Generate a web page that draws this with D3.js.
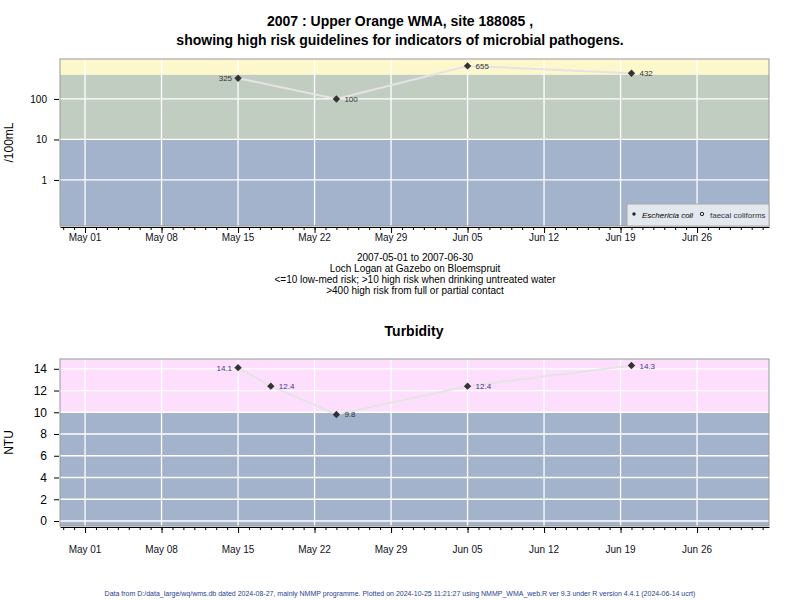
<!DOCTYPE html>
<html><head><meta charset="utf-8">
<script src="https://cdn.jsdelivr.net/npm/d3@7"></script>
<style>body{margin:0;background:#fff}svg{font-family:"Liberation Sans",Arial,sans-serif}</style>
</head><body><svg id="c" width="800" height="600"></svg>
<script>
// E. coli samples
let ecoliDates = ["2007-05-15","2007-05-24","2007-06-05","2007-06-20"];
let ecoliValues = [325, 100, 655, 432];
// turbidity samples
let turbDates = ["2007-05-15","2007-05-18","2007-05-24","2007-06-05","2007-06-20"];
let turbValues = [14.1, 12.4, 9.8, 12.4, 14.3];
let tickDates = ["2007-05-01","2007-05-08","2007-05-15","2007-05-22","2007-05-29","2007-06-05","2007-06-12","2007-06-19","2007-06-26"];
let logTicks = [1, 10, 100];
let ntuTicks = [0,2,4,6,8,10,12,14];
let subtitle = ["2007-05-01 to 2007-06-30","Loch Logan at Gazebo on Bloemspruit",
  "<=10 low-med risk; >10 high risk when drinking untreated water",">400 high risk from full or partial contact"];

let svg = d3.select("#c");
let parse = d3.utcParse("%Y-%m-%d");
let fmt = d3.utcFormat("%b %d");
let x = d3.scaleUtc().domain([new Date(Date.UTC(2007,3,28,17)), new Date(Date.UTC(2007,6,2,14))]).range([60,769]);

function text(t, xx, yy, opts) {
    let el = svg.append("text").attr("x", xx).attr("y", yy).text(t)
        .attr("text-anchor", opts.anchor || "middle")
        .attr("font-size", opts.size || 11)
        .attr("fill", opts.fill || "#000");
    if (opts.bold) el.attr("font-weight", "bold");
    return el;
}

text("2007 : Upper Orange WMA, site 188085 ,", 400, 26, {size:14, bold:true});
text("showing high risk guidelines for indicators of microbial pathogens.", 400, 45, {size:14, bold:true});

function panel(y, top, bottom, bands, yTicks, tickFmt, dates, vals, ylab, labFill, xLabY) {
    bands.forEach(b => {
        svg.append("rect").attr("x", 60).attr("width", 709)
            .attr("y", Math.max(top, y(b[1]))).attr("height", Math.min(bottom, y(b[0])) - Math.max(top, y(b[1])))
            .attr("fill", b[2]);
    });
    tickDates.forEach(d => svg.append("line").attr("x1", x(parse(d))).attr("x2", x(parse(d)))
        .attr("y1", top).attr("y2", bottom).attr("stroke", "#fff").attr("stroke-width", 1.3));
    yTicks.forEach(v => svg.append("line").attr("x1", 60).attr("x2", 769).attr("y1", y(v)).attr("y2", y(v))
        .attr("stroke", "#fff").attr("stroke-width", 1.3));
    svg.append("rect").attr("x", 60).attr("y", top).attr("width", 709).attr("height", bottom - top)
        .attr("fill", "none").attr("stroke", "#999");
    let ya = svg.append("g").attr("transform", "translate(59,0)")
        .call(d3.axisLeft(y).tickValues(yTicks).tickFormat(tickFmt).tickSize(5).tickPadding(7).tickSizeOuter(0));
    ya.select(".domain").remove();
    ya.selectAll("text").attr("font-size", ylab == "NTU" ? 12 : 10).attr("fill", "#000").attr("font-family", "Liberation Sans, Arial");
    svg.append("text").attr("transform", `translate(13,${(top + bottom) / 2}) rotate(-90)`)
        .attr("text-anchor", "middle").attr("font-size", 12).text(ylab);
    let xa = svg.append("g").attr("transform", `translate(0,${bottom + 1})`)
        .call(d3.axisBottom(x).ticks(d3.utcDay.every(1)).tickFormat("").tickSize(3).tickSizeOuter(0));
    xa.select(".domain").attr("stroke", "#000");
    svg.append("g").attr("transform", `translate(0,${bottom + 1})`)
        .call(d3.axisBottom(x).tickValues(tickDates.map(parse)).tickFormat("").tickSize(6)).select(".domain").remove();
    tickDates.forEach(d => text(fmt(parse(d)), x(parse(d)), xLabY, {size: 10, fill: "#112"}));
    let pts = dates.map((d, i) => [x(parse(d)), y(vals[i])]);
    svg.append("path").attr("d", d3.line()(pts)).attr("fill", "none").attr("stroke", "#e4e4e4").attr("stroke-width", 2);
    svg.selectAll(null).data(pts).enter().append("rect")
        .attr("x", -2.6).attr("y", -2.6).attr("width", 5.2).attr("height", 5.2)
        .attr("transform", p => `translate(${p[0]},${p[1]}) rotate(45)`).attr("fill", "#333");
    pts.forEach((p, i) => {
        let left = i == 0;
        text(String(vals[i]), p[0] + (left ? -6 : 8), p[1] + 3, {size: 8, anchor: left ? "end" : "start", fill: labFill(vals[i])});
    });
}

let yLog = d3.scaleLog().domain([0.073, 970]).range([226, 59]);
panel(yLog, 59, 226, [[0.073, 10, "#a2b3cb"], [10, 400, "#c2cdc1"], [400, 970, "#fdf8cc"]],
    logTicks, d3.format("d"), ecoliDates, ecoliValues, "/100mL", v => "#333", 241);

let yNtu = d3.scaleLinear().domain([-0.46, 14.9]).range([526, 359]);
panel(yNtu, 359, 526, [[-0.46, 10, "#a2b3cb"], [10, 14.9, "#fddffd"]],
    ntuTicks, d3.format("d"), turbDates, turbValues, "NTU", v => v > 10 ? "#3a3a8a" : "#333", 553);

svg.append("rect").attr("x", 627).attr("y", 204).attr("width", 142).attr("height", 22)
    .attr("fill", "#e3e7ee").attr("stroke", "#aaa");
svg.append("path").attr("transform", "translate(634,214)").attr("d", d3.symbol(d3.symbolCircle, 9)).attr("fill", "#222");
text("Eschericia coli", 642, 218, {size: 8, anchor: "start"}).attr("font-style", "italic");
svg.append("path").attr("transform", "translate(702,214)").attr("d", d3.symbol(d3.symbolCircle, 9)).attr("fill", "none").attr("stroke", "#222");
text("faecal coliforms", 710, 218, {size: 8, anchor: "start", fill: "#334"});

subtitle.forEach((s, i) => text(s, 415, 261 + i * 11, {size: 10}));
text("Turbidity", 414, 336, {size: 14, bold: true});
text("Data from D:/data_large/wq/wms.db dated 2024-08-27, mainly NMMP programme. Plotted on 2024-10-25 11:21:27 using NMMP_WMA_web.R ver 9.3 under R version 4.4.1 (2024-06-14 ucrt)",
    400, 596, {size: 7, fill: "#1f3f8f"});
</script></body></html>
